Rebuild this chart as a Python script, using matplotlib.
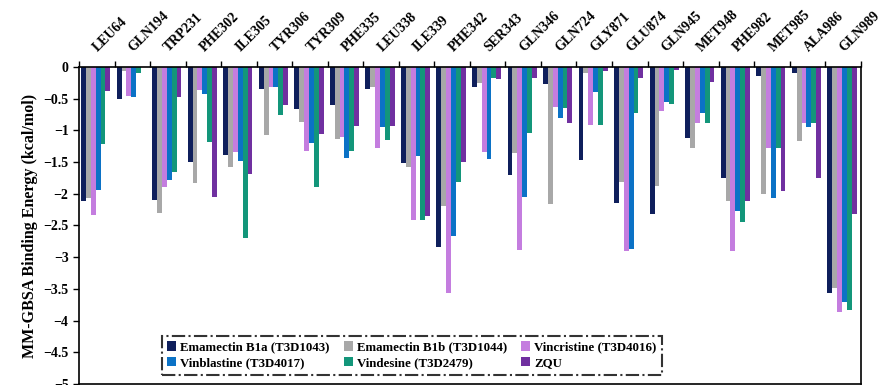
import matplotlib
matplotlib.use("Agg")
import matplotlib.pyplot as plt
import numpy as np
from matplotlib.ticker import FixedLocator, FuncFormatter

# residuos (eje x)
residuos = ["LEU64", "GLN194", "TRP231", "PHE302", "ILE305", "TYR306", "TYR309",
            "PHE335", "LEU338", "ILE339", "PHE342", "SER343", "GLN346", "GLN724",
            "GLY871", "GLU874", "GLN945", "MET948", "PHE982", "MET985", "ALA986",
            "GLN989"]

# energias MM-GBSA por compuesto (kcal/mol)
emamectin_b1a = [-2.11, -0.51, -2.10, -1.50, -1.39, -0.35, -0.67, -0.60, -0.35, -1.52, -2.84,
                 -0.32, -1.71, -0.27, -1.46, -2.15, -2.32, -1.12, -1.75, -0.14, -0.09, -3.56]
emamectin_b1b = [-2.07, -0.07, -2.31, -1.83, -1.57, -1.07, -0.86, -1.14, -0.31, -1.58, -2.20,
                 -0.26, -1.35, -2.16, -0.09, -1.81, -1.88, -1.27, -2.12, -2.01, -1.17, -3.48]
vincristina = [-2.34, -0.46, -1.89, -0.36, -1.34, -0.31, -1.32, -1.11, -1.28, -2.41, -3.56,
               -1.34, -2.89, -0.63, -0.91, -2.91, -0.69, -0.88, -2.90, -1.28, -0.89, -3.86]
vinblastina = [-1.94, -0.48, -1.78, -0.43, -1.48, -0.31, -1.20, -1.43, -0.94, -1.40, -2.67,
               -1.45, -2.05, -0.81, -0.39, -2.87, -0.56, -0.73, -2.27, -2.06, -0.95, -3.71]
vindesina = [-1.21, -0.09, -1.65, -1.18, -2.69, -0.76, -1.89, -1.32, -1.15, -2.41, -1.82,
             -0.18, -1.04, -0.65, -0.91, -0.73, -0.58, -0.88, -2.44, -1.27, -0.89, -3.84]
zqu = [-0.38, 0.0, -0.48, -2.05, -1.68, -0.60, -1.05, -0.93, -0.93, -2.35, -1.50,
       -0.19, -0.18, -0.89, -0.06, -0.18, -0.05, -0.23, -2.12, -1.96, -1.75, -2.32]

nombres = ["Emamectin B1a (T3D1043)", "Emamectin B1b (T3D1044)", "Vincristine (T3D4016)",
           "Vinblastine (T3D4017)", "Vindesine (T3D2479)", "ZQU"]
colores = ["#0f1f5c", "#a8a8a8", "#c47ddf", "#0b72c6", "#13967a", "#7030a0"]
series = [emamectin_b1a, emamectin_b1b, vincristina, vinblastina, vindesina, zqu]

plt.rcParams['font.family'] = ['Liberation Serif', 'DejaVu Serif']
plt.rcParams['font.weight'] = 'bold'

fig = plt.figure(figsize=(8.81, 3.85), dpi=100)
ax = fig.add_axes([0.0897, 0.0026, 0.8873, 0.8234])

x = np.arange(len(residuos))
w = 0.137
barras = []
for k, (vals, col, nom) in enumerate(zip(series, colores, nombres)):
    b = ax.bar(x + (k - 2.5) * w - 0.03, vals, width=w, color=col, label=nom)
    barras.append(b)

ax.set_xlim(-0.5, len(residuos) - 0.5)
ax.set_ylim(-5, 0)

# eje x arriba
ax.xaxis.tick_top()
ax.xaxis.set_major_locator(FixedLocator(np.arange(len(residuos) + 1) - 0.5))
ax.xaxis.set_major_formatter(FuncFormatter(lambda v, p: ""))
ax.xaxis.set_minor_locator(FixedLocator(x + 0.1))
ax.set_xticklabels(residuos, minor=True)
ax.tick_params(axis='x', which='major', direction='out', length=4, width=1, top=True, bottom=False)
ax.tick_params(axis='x', which='minor', length=0, pad=9, labelsize=10, top=True, bottom=False,
               labeltop=True, labelbottom=False)
for t in ax.get_xticklabels(minor=True):
    t.set_rotation(45)
    t.set_ha('left')
    t.set_va('bottom')
    t.set_rotation_mode('anchor')
    t.set_fontweight('bold')

ax.set_yticks(np.arange(0, -5.01, -0.5))
ax.yaxis.set_major_formatter(FuncFormatter(lambda v, p: ("%g" % v).replace("-", "\u2212")))
ax.tick_params(axis='y', direction='out', length=4, width=1, labelsize=10)
for t in ax.get_yticklabels():
    t.set_fontweight('bold')

for s in ax.spines.values():
    s.set_linewidth(1.2)

ax.set_ylabel("MM-GBSA Binding Energy (kcal/mol)", fontsize=11.5, fontweight='bold', labelpad=4)

# leyenda en filas
orden = [0, 3, 1, 4, 2, 5]
leg = ax.legend([barras[i] for i in orden], [nombres[i] for i in orden], ncol=3,
                loc='center', bbox_to_anchor=(0.426, 0.09),
                frameon=True, fancybox=False, handlelength=0.7, handleheight=0.7,
                handletextpad=0.3, columnspacing=1.1, labelspacing=0.3, borderpad=0.4,
                prop={'weight': 'bold', 'size': 9.3})
leg.get_frame().set_edgecolor('black')
leg.get_frame().set_linestyle('-.')
leg.get_frame().set_linewidth(1.5)

fig.savefig("out.png", dpi=100)
